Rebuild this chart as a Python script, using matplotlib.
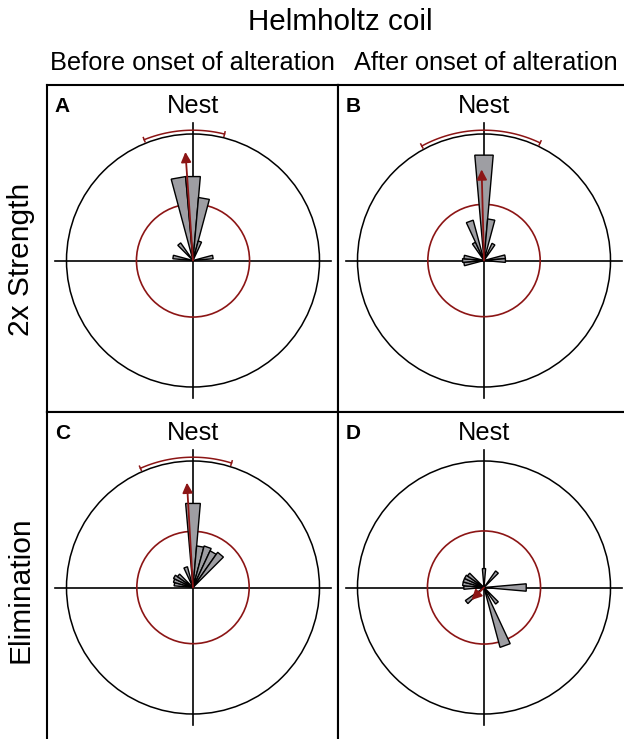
import numpy as np
import matplotlib
matplotlib.use('Agg')
import matplotlib.pyplot as plt
from matplotlib.patches import Polygon, Circle

plt.rcParams['font.family'] = ['Liberation Sans', 'DejaVu Sans']

# circular histograms, bin centres in degrees clockwise from nest (north), 10 deg bins
bins_a = [-80, -40, -10, 0, 10, 20, 80]
len_a = [0.16, 0.17, 0.666, 0.666, 0.50, 0.16, 0.16]
bins_b = [-100, -90, -80, -30, -20, 0, 10, 30, 80, 90]
len_b = [0.16, 0.17, 0.16, 0.16, 0.33, 0.836, 0.33, 0.15, 0.17, 0.17]
bins_c = [-80, -70, -60, -50, -20, 0, 10, 20, 30, 40]
len_c = [0.15, 0.16, 0.17, 0.15, 0.17, 0.667, 0.33, 0.34, 0.32, 0.34]
bins_d = [-130, -90, -80, -70, -60, -50, 0, 40, 90, 140, 160]
len_d = [0.18, 0.16, 0.17, 0.17, 0.17, 0.16, 0.15, 0.16, 0.335, 0.16, 0.49]

# mean vector (direction deg, length), confidence arc half width (deg), rayleigh circle
mean_dir = [-4, -1.5, -3.3, -135]
mean_len = [0.86, 0.72, 0.83, 0.14]
ci_half = [18, 27, 20.5, None]
crit_r = [0.447, 0.444, 0.444, 0.447]

letters = ['A', 'B', 'C', 'D']
col_labels = ['Before onset of alteration', 'After onset of alteration']
row_labels = ['2x Strength', 'Elimination']

W, H = 624, 739
red = '#8c1515'
grey = '#9e9ea3'
binw = 10

fig = plt.figure(figsize=(W/100, H/100), dpi=100)

# panel boxes in pixels (left, top)
boxes = [(47, 85), (338, 85), (47, 412), (338, 412)]
bw, bh = 291, 327
rpx = 126.5
cx, cy = 146, 175.5

all_bins = [bins_a, bins_b, bins_c, bins_d]
all_len = [len_a, len_b, len_c, len_d]

for i, (bx, by) in enumerate(boxes):
    ax = fig.add_axes([bx/W, 1 - (by + bh)/H, bw/W, bh/H])
    ax.set_xlim(-cx/rpx, (bw - cx)/rpx)
    ax.set_ylim(-(bh - cy)/rpx, cy/rpx)
    ax.set_xticks([])
    ax.set_yticks([])
    for s in ax.spines.values():
        s.set_linewidth(1.5)
    if i >= 2:
        ax.spines['bottom'].set_visible(False)

    # cross and circles
    ax.plot([-1.09, 1.09], [0, 0], color='k', lw=1.2, zorder=1)
    ax.plot([0, 0], [-1.09, 1.09], color='k', lw=1.2, zorder=1)
    ax.add_patch(Circle((0, 0), 1.0, fill=False, ec='k', lw=1.1, zorder=1))
    ax.add_patch(Circle((0, 0), crit_r[i], fill=False, ec=red, lw=1.2, zorder=1))

    # wedges
    for b, r in zip(all_bins[i], all_len[i]):
        a1 = np.radians(b - binw/2)
        a2 = np.radians(b + binw/2)
        pts = [(0, 0), (r*np.sin(a1), r*np.cos(a1)), (r*np.sin(a2), r*np.cos(a2))]
        ax.add_patch(Polygon(pts, closed=True, fc=grey, ec='k', lw=1.0, zorder=3))

    # mean vector
    th = np.radians(mean_dir[i])
    ax.annotate('', xy=(mean_len[i]*np.sin(th), mean_len[i]*np.cos(th)), xytext=(0, 0),
                arrowprops=dict(arrowstyle='-|>', color=red, lw=1.3,
                                mutation_scale=15, shrinkA=0, shrinkB=0), zorder=5)

    # confidence arc
    if ci_half[i] is not None:
        t = np.radians(np.linspace(mean_dir[i] - ci_half[i], mean_dir[i] + ci_half[i], 100))
        ax.plot(1.03*np.sin(t), 1.03*np.cos(t), color=red, lw=1.1, zorder=4)
        for e in [t[0], t[-1]]:
            ax.plot([1.012*np.sin(e), 1.048*np.sin(e)], [1.012*np.cos(e), 1.048*np.cos(e)],
                    color=red, lw=1.1, zorder=4)

    ax.text(0, 1.225, 'Nest', ha='center', va='center', fontsize=18.3)
    ax.text(0.027, 0.933, letters[i], transform=ax.transAxes, ha='left', va='center',
            fontsize=15, fontweight='bold')

fig.text(340/W, 1 - 22/H, 'Helmholtz coil', ha='center', va='center', fontsize=21.3)
fig.text(192.5/W, 1 - 63/H, col_labels[0], ha='center', va='center', fontsize=18.3)
fig.text(485.5/W, 1 - 63/H, col_labels[1], ha='center', va='center', fontsize=18.3)
fig.text(21/W, 1 - 259/H, row_labels[0], ha='center', va='center', rotation=90, fontsize=21.5)
fig.text(21/W, 1 - 590/H, row_labels[1], ha='center', va='center', rotation=90, fontsize=21.5)

plt.savefig('out.png', dpi=100)
plt.close()
